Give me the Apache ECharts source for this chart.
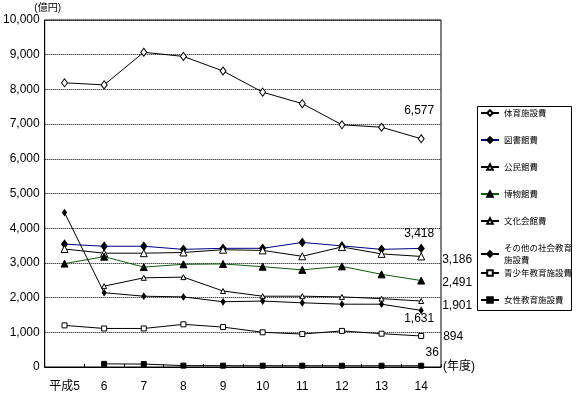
<!DOCTYPE html>
<html><head><meta charset="utf-8">
<script src="https://cdn.jsdelivr.net/npm/echarts@6/dist/echarts.min.js"></script>
<style>html,body{margin:0;padding:0;background:#fff}#c{width:580px;height:394px}</style>
</head><body><div id="c"></div>
<script>
// ---- data ----
const categories = ['平成5', '6', '7', '8', '9', '10', '11', '12', '13', '14'];
const seriesNames = ['体育施設費', '図書館費', '公民館費', '博物館費', '文化会館費', 'その他の社会教育施設費', '青少年教育施設費', '女性教育施設費'];
const sports     = [8190, 8130, 9070, 8950, 8530, 7920, 7590, 6980, 6910, 6577];
const library    = [3540, 3480, 3480, 3390, 3420, 3420, 3590, 3490, 3390, 3418];
const community  = [3400, 3280, 3280, 3300, 3380, 3360, 3190, 3460, 3260, 3186];
const museum     = [2980, 3180, 2880, 2960, 2970, 2890, 2800, 2900, 2670, 2491];
const culture    = [null, 2330, 2570, 2590, 2190, 2040, 2040, 2020, 1970, 1901];
const otherSocial= [4450, 2140, 2040, 2020, 1880, 1900, 1850, 1810, 1810, 1631];
const youth      = [1200, 1110, 1110, 1230, 1150, 1000, 950, 1040, 960, 894];
const women      = [null, 90, 85, 40, 38, 37, 37, 36, 36, 36];
const yMin = 0, yMax = 10000, yInterval = 1000;
const yUnit = '(億円)', xUnit = '(年度)';

// ---- styles ----
const numFont = "'Liberation Sans', 'Noto Sans CJK JP', sans-serif";
const jpFont = "'Noto Sans CJK JP', sans-serif";
const values = [sports, library, community, museum, culture, otherSocial, youth, women];
const styles = [
  {symbol: 'diamond', size: [6, 8], fill: '#fff', line: '#000', label: {offset: [-2, -28], align: 'center'}},
  {symbol: 'diamond', size: [6, 8], fill: '#000', line: '#000080', label: {offset: [-2, -15], align: 'center'}},
  {symbol: 'triangle', size: 7, fill: '#fff', line: '#000', label: {offset: [21, 3], align: 'left'}},
  {symbol: 'triangle', size: 7, fill: '#000', line: '#105810', label: {offset: [21, 2], align: 'left'}},
  {symbol: 'triangle', size: 5, fill: '#fff', line: '#000', label: {offset: [21, 5], align: 'left'}},
  {symbol: 'diamond', size: [4, 6], fill: '#000', line: '#000', label: {offset: [-2, 8], align: 'center'}},
  {symbol: 'rect', size: 5, fill: '#fff', line: '#000', label: {offset: [22, 1], align: 'left'}},
  {symbol: 'rect', size: 5, fill: '#000', line: '#000', label: {offset: [11, -13], align: 'center'}}
];
const fmt = v => Number(v).toLocaleString('en-US');

const series = values.map((arr, si) => {
  const st = styles[si];
  const last = arr.length - 1;
  return {
    name: seriesNames[si],
    type: 'line',
    symbol: st.symbol,
    symbolSize: st.size,
    showAllSymbol: true,
    connectNulls: false,
    lineStyle: {color: st.line, width: 1},
    itemStyle: {color: st.fill, borderColor: '#000', borderWidth: 1},
    emphasis: {disabled: true},
    data: arr.map((v, i) => i === last ? {
      value: v,
      label: {
        show: true, position: 'inside', offset: st.label.offset, align: st.label.align,
        verticalAlign: 'middle', formatter: p => fmt(p.value),
        fontFamily: numFont, fontSize: 12, color: '#000'
      }
    } : v)
  };
});

const legendBase = {
  orient: 'vertical', left: 480, itemWidth: 18, itemHeight: 7, itemGap: 15, padding: 0,
  selectedMode: false,
  textStyle: {fontFamily: jpFont, fontSize: 8.5, lineHeight: 12, color: '#000'}
};

const chart = echarts.init(document.getElementById('c'), null, {renderer: 'canvas'});
chart.setOption({
  animation: false,
  backgroundColor: '#fff',
  grid: {left: 41, top: 20, width: 400, height: 347, show: true, borderColor: '#000', borderWidth: 1, backgroundColor: 'transparent'},
  xAxis: {
    type: 'category', data: categories, boundaryGap: true,
    axisLine: {lineStyle: {color: '#000', width: 1}},
    axisTick: {show: true, inside: true, length: 3, lineStyle: {color: '#000'}},
    axisLabel: {margin: 14, fontFamily: numFont, fontSize: 12, color: '#000', interval: 0},
    name: xUnit, nameLocation: 'end', nameGap: 2,
    nameTextStyle: {fontFamily: numFont, fontSize: 12, color: '#000', padding: [18, 0, 0, 0]}
  },
  yAxis: {
    type: 'value', min: yMin, max: yMax, interval: yInterval,
    axisLine: {show: true, lineStyle: {color: '#000', width: 1}},
    axisTick: {show: false},
    splitLine: {show: true, lineStyle: {color: '#000', type: 'dotted', width: 1}},
    axisLabel: {margin: 5, fontFamily: numFont, fontSize: 12, color: '#000', formatter: v => fmt(v)},
    name: yUnit, nameLocation: 'end', nameGap: 7,
    nameTextStyle: {fontFamily: numFont, fontSize: 10, color: '#000', align: 'center', padding: [0, 0, 0, 6]}
  },
  legend: [
    Object.assign({}, legendBase, {data: seriesNames.slice(0, 5), top: 107}),
    Object.assign({}, legendBase, {
      data: [seriesNames[5]], top: 236,
      formatter: n => n.replace('社会教育', '社会教育\n'),
      textStyle: Object.assign({}, legendBase.textStyle, {padding: [12, 0, 0, 0]})
    }),
    Object.assign({}, legendBase, {data: seriesNames.slice(6), top: 267})
  ],
  graphic: [{
    type: 'rect', silent: true,
    shape: {x: 477.5, y: 106.5, width: 94, height: 204},
    style: {fill: 'none', stroke: '#000', lineWidth: 1}
  }],
  series: series
});
</script>
</body></html>
